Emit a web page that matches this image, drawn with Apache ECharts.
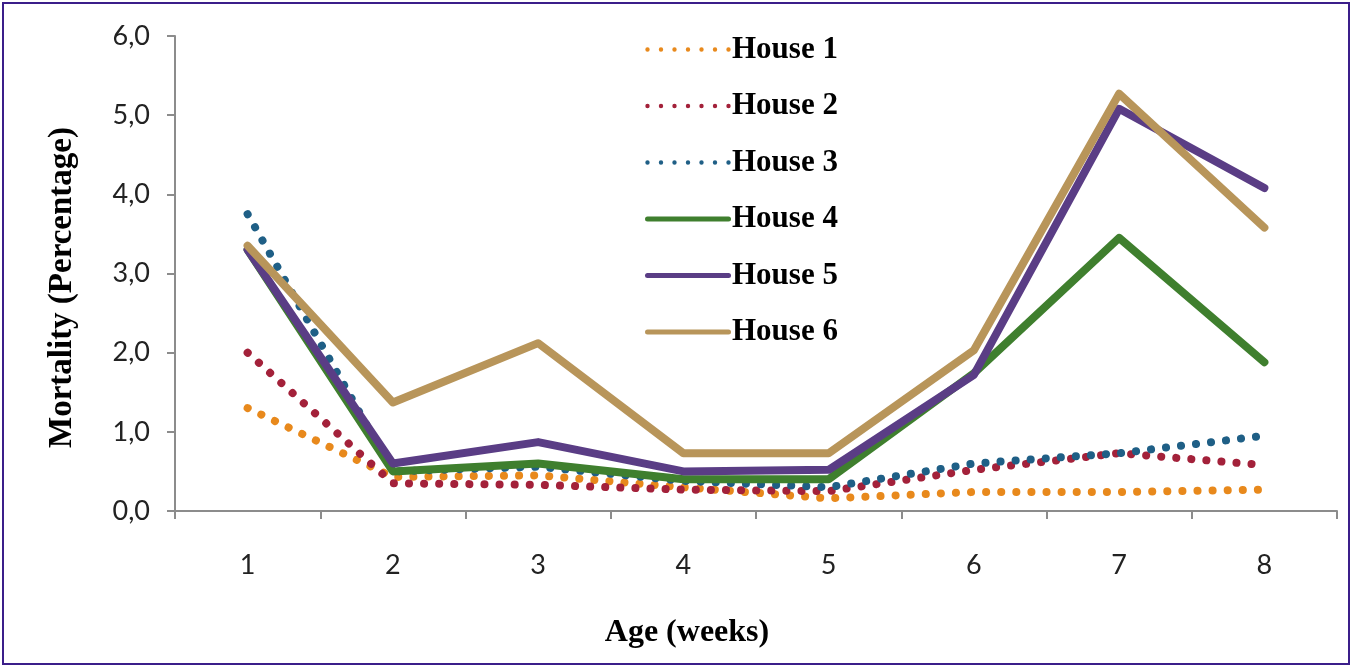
<!DOCTYPE html>
<html>
<head>
<meta charset="utf-8">
<script src="https://cdn.jsdelivr.net/npm/echarts@6/dist/echarts.min.js"></script>
<style>
  html, body { margin: 0; padding: 0; background: #fff; }
  #frame { position: absolute; left: 2px; top: 2px; width: 1348px; height: 663px; border: 2px solid #3b1e8a; box-sizing: border-box; }
  #chart { position: absolute; left: 0; top: 0; width: 1354px; height: 669px; }
</style>
</head>
<body>
<div id="chart"></div>
<div id="frame"></div>
<script>
// weeks of age
var weeks = ['1', '2', '3', '4', '5', '6', '7', '8'];

// mortality per house, percent
var house1 = [1.30, 0.43, 0.45, 0.30, 0.16, 0.24, 0.24, 0.27];
var house2 = [2.00, 0.35, 0.33, 0.27, 0.25, 0.52, 0.73, 0.58];
var house3 = [3.75, 0.50, 0.56, 0.38, 0.30, 0.60, 0.73, 0.95];
var house4 = [3.30, 0.50, 0.60, 0.40, 0.40, 1.74, 3.45, 1.88];
var house5 = [3.30, 0.60, 0.87, 0.50, 0.52, 1.72, 5.08, 4.08];
var house6 = [3.35, 1.37, 2.12, 0.73, 0.73, 2.03, 5.27, 3.58];

var names = ['House 1', 'House 2', 'House 3', 'House 4', 'House 5', 'House 6'];
var colors = ['#e8891c', '#a3213a', '#1f5f86', '#3f7f2e', '#5a3d85', '#b8955a'];

// legend icons: a row of small dots, or a thick bar
var dotIcon = (function () {
    var p = 'path://';
    for (var i = 0; i < 7; i++) {
        var cx = 2.5 + i * 13.5;
        p += 'M' + (cx - 2.2) + ',3a2.2,2.2 0 1,0 4.4,0a2.2,2.2 0 1,0 -4.4,0Z';
    }
    return p + 'M0,0.5L0,0.5M86,5.5L86,5.5';
})();
var barIcon = 'path://M2.5,0.5L83.5,0.5A2.5,2.5 0 0,1 83.5,5.5L2.5,5.5A2.5,2.5 0 0,1 2.5,0.5Z';

function dotted(name, data, color) {
    return {
        name: name, type: 'line', data: data, symbol: 'none', z: 2,
        lineStyle: { color: color, width: 8, type: [0.1, 15], cap: 'round' },
        itemStyle: { color: color }
    };
}
function solid(name, data, color, z) {
    return {
        name: name, type: 'line', data: data, symbol: 'none', z: z,
        lineStyle: { color: color, width: 8, join: 'round', cap: 'round' },
        itemStyle: { color: color }
    };
}

var chart = echarts.init(document.getElementById('chart'), null, { renderer: 'canvas' });
chart.setOption({
    animation: false,
    backgroundColor: '#fff',
    grid: { left: 175, right: 17, top: 36, bottom: 158 },
    legend: {
        orient: 'vertical', left: 640, top: 29, itemWidth: 86, itemHeight: 6, itemGap: 25.5,
        data: names.map(function (n, i) {
            return { name: n, icon: i < 3 ? dotIcon : barIcon, itemStyle: { color: colors[i] } };
        }),
        textStyle: { fontFamily: 'Liberation Serif', fontWeight: 'bold', fontSize: 31, color: '#000', padding: [0, 0, 0, -4] }
    },
    xAxis: {
        type: 'category', data: weeks, boundaryGap: true,
        name: 'Age (weeks)', nameLocation: 'middle', nameGap: 106,
        nameTextStyle: { fontFamily: 'Liberation Serif', fontWeight: 'bold', fontSize: 32, color: '#000', padding: [0, 138, 0, 0] },
        axisLine: { lineStyle: { color: '#8c8c8c', width: 2 } },
        axisTick: { show: true, length: 8, lineStyle: { color: '#8c8c8c', width: 2 } },
        axisLabel: { margin: 41, fontFamily: 'Lato', fontSize: 27, color: '#222' },
        splitLine: { show: false }
    },
    yAxis: {
        type: 'value', min: 0, max: 6, interval: 1,
        name: 'Mortality (Percentage)', nameLocation: 'middle', nameGap: 96,
        nameTextStyle: { fontFamily: 'Liberation Serif', fontWeight: 'bold', fontSize: 33, color: '#000', padding: [0, 28, 0, 0] },
        axisLine: { show: true, lineStyle: { color: '#8c8c8c', width: 2 } },
        axisTick: { show: true, length: 8, lineStyle: { color: '#8c8c8c', width: 2 } },
        axisLabel: {
            margin: 25, fontFamily: 'Lato', fontSize: 27, color: '#222',
            formatter: function (v) { return v.toFixed(1).replace('.', ','); }
        },
        splitLine: { show: false }
    },
    series: [
        dotted(names[0], house1, colors[0]),
        dotted(names[1], house2, colors[1]),
        dotted(names[2], house3, colors[2]),
        solid(names[3], house4, colors[3], 4),
        solid(names[4], house5, colors[4], 5),
        solid(names[5], house6, colors[5], 6)
    ]
});
</script>
</body>
</html>
